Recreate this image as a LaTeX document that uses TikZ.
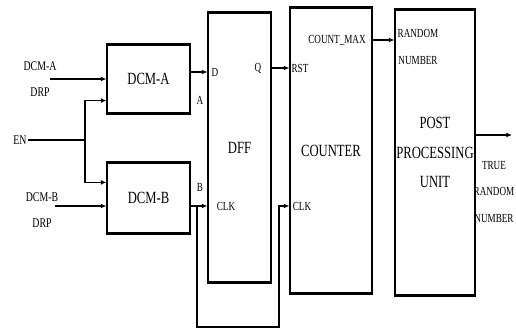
\documentclass[tikz,border=0pt]{standalone}
\usepackage{fontspec}
\usepackage{graphicx}
\setmainfont{Liberation Serif}
\usetikzlibrary{arrows.meta,calc}

\newcommand{\tl}[1]{\scalebox{1}[1.35]{#1}}

\tikzset{
  blk/.style={draw, line width=0.8pt, inner sep=0pt, align=center,
    font=\fontsize{9}{21}\selectfont},
  pin/.style={font=\fontsize{6.5}{7}\selectfont, inner sep=1pt},
  ext/.style={font=\fontsize{7}{19}\selectfont, align=center, inner sep=1pt},
  sig/.style={line width=0.9pt, -{Latex[length=4pt,width=3.5pt]}},
  wire/.style={line width=0.9pt},
  edge/.style={line width=2.2pt},
}

\begin{document}
\begin{tikzpicture}[x=0.025cm,y=0.025cm]
  \useasboundingbox (0,0) rectangle (516,330);
  % blocks
  \node[blk, minimum width=2.075cm, minimum height=1.7cm] (dcma) at (148.5,251) {\tl{DCM-A}};
  \node[blk, minimum width=2.075cm, minimum height=1.75cm] (dcmb) at (148.5,132) {\tl{DCM-B}};
  \node[blk, minimum width=1.575cm, minimum height=6.725cm] (dff) at (239.5,182.5) {\tl{DFF}};
  \node[blk, minimum width=2.05cm, minimum height=7.125cm] (cnt) at (331,179.5) {\tl{COUNTER}};
  \node[blk, minimum width=2.0cm, minimum height=7.125cm] (post) at (435,177.5) {\tl{POST}\\\tl{PROCESSING}\\\tl{UNIT}};
  % heavier top and bottom edges
  \foreach \b in {dcma,dcmb,dff,cnt,post} {
    \draw[edge] (\b.north west) -- (\b.north east);
    \draw[edge] (\b.south west) -- (\b.south east);
  }
  % outside labels
  \node[ext] (drpa) at (40,251) {\tl{DCM-A}\\\tl{DRP}};
  \node[ext] (drpb) at (42,120) {\tl{DCM-B}\\\tl{DRP}};
  \node[ext] (en) at (20,190) {\tl{EN}};
  \node[ext, font=\fontsize{6.5}{19}\selectfont] (trng) at (494,138) {\tl{TRUE}\\\tl{RANDOM}\\\tl{NUMBER}};
  % pin labels
  \node[pin] (a) at (200,230) {\tl{A}};
  \node[pin] (b) at (200,143) {\tl{B}};
  \node[pin] (d) at (215,258) {\tl{D}};
  \node[pin] (clk) at (226,124) {\tl{CLK}};
  \node[pin] (q) at (258,262) {\tl{Q}};
  \node[pin] (rst) at (300,262) {\tl{RST}};
  \node[pin] (cclk) at (302,124) {\tl{CLK}};
  \node[pin] (cmax) at (337,290) {\tl{COUNT\_MAX}};
  \node[pin, align=center, font=\fontsize{6.5}{19}\selectfont] (rnd) at (418,283) {\tl{RANDOM}\\\tl{NUMBER}};
  % wiring
  \coordinate (inA) at (50,251);
  \coordinate (inB) at (55,124);
  \coordinate (split) at (85,190);
  \coordinate (tap) at (197,124);
  \coordinate (loopL) at (197,3);
  \coordinate (loopR) at (279,3);
  \coordinate (out) at (512,195);
  \draw[sig] (inA) -- (dcma.west |- inA);
  \draw[sig] (inB) -- (dcmb.west |- inB);
  \draw[wire] (en) -- (split);
  \draw[sig] (split) |- ($(dcma.south west)+(0,13)$);
  \draw[sig] (split) |- ($(dcmb.north west)+(0,-20)$);
  \draw[sig] (dcma.east |- d) -- (dff.west |- d);
  \draw[sig] (dcmb.east |- clk) -- (dff.west |- clk);
  \draw[sig] (tap) -- (loopL) -- (loopR) |- (cnt.west |- cclk);
  \draw[sig] (dff.east |- q) -- (cnt.west |- q);
  \draw[sig] (cnt.east |- cmax) -- (post.west |- cmax);
  \draw[sig] (post.east |- out) -- (out);
\end{tikzpicture}
\end{document}
